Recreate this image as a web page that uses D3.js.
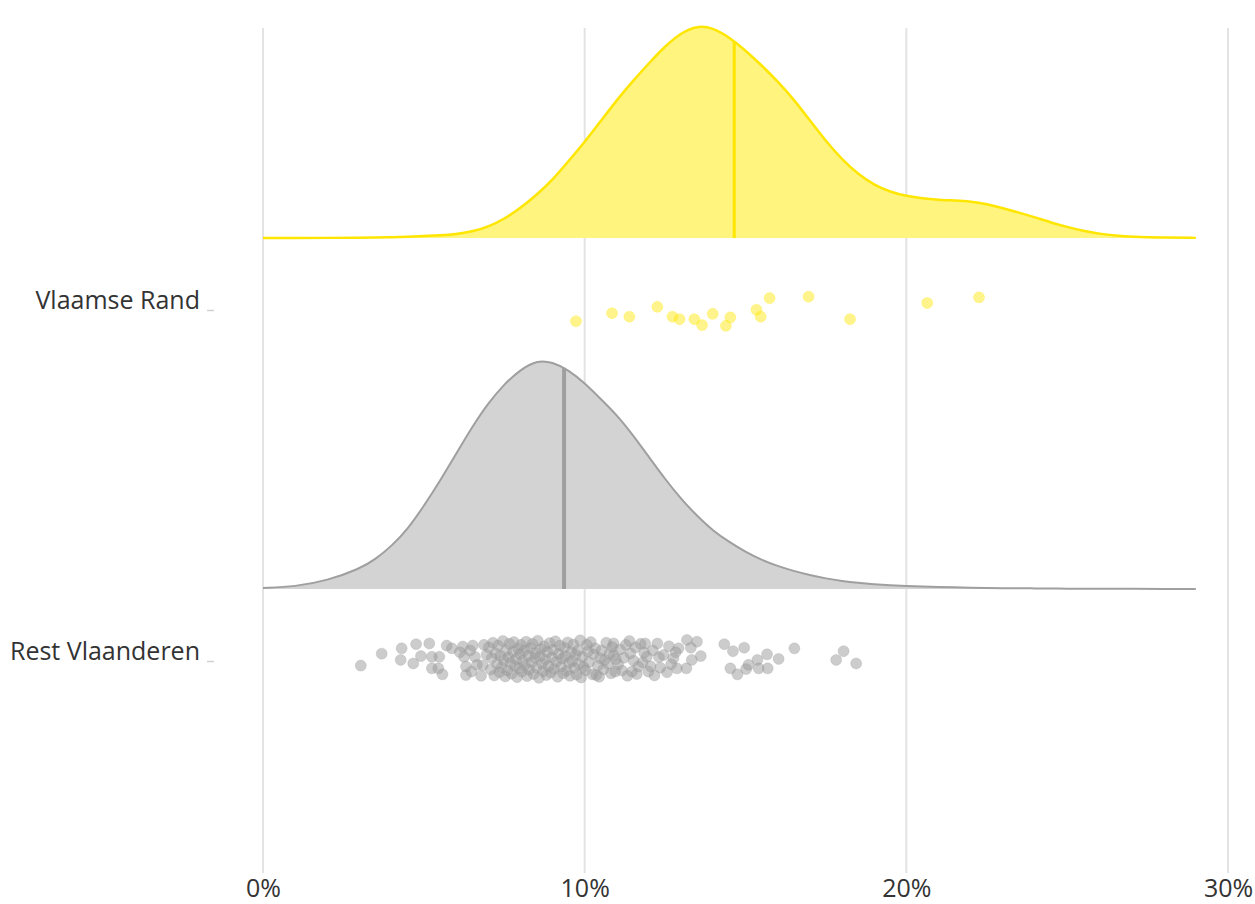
<!DOCTYPE html>
<html>
<head>
<meta charset="utf-8">
<script src="https://cdn.jsdelivr.net/npm/d3@7"></script>
<style>
  body { margin: 0; background: #fff; }
  .cat text { font-family: "Open Sans", sans-serif; font-size: 25px; fill: #333; }
  .xax text { font-family: "Liberation Sans Narrow", "Open Sans", sans-serif; font-size: 25px; fill: #333; }
</style>
</head>
<body>
<div id="chart"></div>
<script>
// rows (bottom to top)
var categories = ["Rest Vlaanderen", "Vlaamse Rand"];
var xTicks = [0, 10, 20, 30];

// density grid (percent) and density values (per mille per pp)
var densityX = [0, 1, 2, 3, 3.5, 4, 4.5, 5, 5.5, 6, 6.5, 7, 7.5, 8, 8.5, 9, 9.5, 10, 10.5, 11, 11.5, 12, 12.5,
  13, 13.5, 14, 14.5, 15, 15.5, 16, 16.5, 17, 17.5, 18, 18.5, 19, 19.5, 20, 20.5, 21, 21.5, 22, 22.5,
  23, 23.5, 24, 24.5, 25, 25.5, 26, 26.5, 27, 28, 29];
var densityRand = [0, 0, 0.1, 0.2, 0.3, 0.5, 0.8, 1.1, 1.6, 2.2, 3.8, 6.5, 11.2, 17.6, 25.3, 34.1, 45.3, 56.5,
  68.8, 81.2, 92.4, 102.9, 112.9, 120.8, 125.0, 123.6, 118.0, 110.4, 101.6, 92.2, 81.6, 69.2, 57.0, 46.2,
  37.6, 31.2, 27.1, 24.7, 23.3, 22.5, 22.1, 21.6, 20.0, 17.6, 15.0, 12.2, 9.1, 6.5, 4.2, 2.5, 1.4, 0.8, 0.3, 0.1];
var densityRest = [0.6, 1.4, 5.0, 11.8, 17.6, 25.3, 35.3, 48.8, 63.5, 79.4, 95.3, 109.4, 120.6, 129.0, 134.5,
  133.6, 128.8, 121.2, 111.8, 102.4, 90.6, 77.6, 64.7, 52.9, 42.9, 34.1, 27.6, 21.8, 17.1, 13.5, 10.6, 8.2,
  6.2, 4.7, 3.6, 2.8, 2.2, 1.8, 1.5, 1.2, 1.0, 0.8, 0.65, 0.5, 0.45, 0.4, 0.3, 0.2, 0.2, 0.2, 0.15, 0.1, 0.1, 0.1];

// mean lines (percent)
var means = [9.36, 14.65];

// municipalities: [value %, jitter in % of row spacing]
var pointsRand = [[9.73,-3.2],[10.85,-0.9],[11.39,-1.9],[12.26,0.9],[12.73,-1.9],[12.95,-2.6],[13.41,-2.6],
  [13.65,-4.3],[13.98,-1.1],[14.39,-4.5],[14.53,-2.1],[15.34,0.1],[15.47,-1.9],[15.75,3.4],[16.96,3.8],
  [18.25,-2.6],[20.65,2.0],[22.26,3.6]];

var pointsRest = [
  [3.04,-1.3],[3.69,2.1],[4.31,3.6],[4.28,0.3],[4.76,4.8],[5.17,5.0],[4.91,1.4],[4.67,-0.7],[5.25,1.2],
  [5.48,1.2],[5.25,-2.1],[5.45,-2.1],[5.58,-3.8],[5.71,4.4],[5.87,3.6],[6.21,4.1],[6.52,4.4],[6.87,4.6],
  [6.25,1.2],[6.59,1.2],[6.31,-1.6],[6.65,-1.1],[6.31,-4.0],[6.78,-4.2],
  [6.12,2.5],[6.44,3.0],[6.48,-3.0],[6.83,-1.2],[6.95,1.8],
  [7.02,3.9],[7.08,-2.4],[7.11,0.8],[7.15,5.2],[7.19,-4.1],[7.24,2.2],[7.28,-0.9],[7.31,4.4],[7.35,-3.2],
  [7.38,1.5],[7.42,-1.8],[7.46,5.7],[7.49,0.2],[7.53,-4.4],[7.56,3.1],[7.6,-2.7],[7.63,1.1],[7.66,4.9],
  [7.7,-0.5],[7.73,-3.6],[7.77,2.6],[7.8,5.4],[7.83,-1.4],[7.87,0.6],[7.9,-4.6],[7.93,3.5],[7.97,-2.1],[7.99,1.9],
  [8.02,4.6],[8.05,-3.0],[8.08,0.1],[8.12,2.9],[8.15,-1.2],[8.18,5.5],[8.21,-4.3],[8.25,1.6],[8.28,-2.5],
  [8.31,3.7],[8.35,-0.4],[8.38,4.9],[8.41,-3.7],[8.44,0.9],[8.48,2.3],[8.51,-1.9],[8.54,5.8],[8.58,-4.8],
  [8.61,1.3],[8.64,3.4],[8.68,-0.8],[8.71,-2.9],[8.74,4.2],[8.78,0.4],[8.81,-4.0],[8.84,2.6],[8.88,-1.5],
  [8.91,5.1],[8.95,-3.3],[8.98,1.0],
  [9.02,3.2],[9.05,-2.2],[9.09,5.6],[9.12,-0.2],[9.16,-4.5],[9.19,2.0],[9.23,4.4],[9.26,-1.6],[9.3,0.7],
  [9.33,-3.5],[9.37,3.8],[9.4,1.4],[9.44,-2.8],[9.47,5.3],[9.51,-0.6],[9.54,-4.2],[9.58,2.5],[9.61,0.0],
  [9.65,4.7],[9.68,-2.0],[9.72,1.8],[9.75,-3.9],[9.79,3.0],[9.82,-0.9],[9.86,5.9],[9.89,-4.7],[9.93,1.2],[9.97,-1.7],
  [10.03,-2.6],[10.1,2.7],[10.14,-0.3],[10.19,5.4],[10.24,-3.8],[10.28,1.9],[10.33,3.6],[10.41,-1.3],
  [10.45,-4.5],[10.53,3.0],[10.58,-2.4],[10.62,0.3],[10.67,5.2],[10.72,-0.8],[10.77,2.1],[10.82,-3.5],
  [10.86,4.0],[10.97,0.5],
  [11.04,-1.0],[11.1,3.3],[11.16,-2.7],[11.22,0.9],[11.28,4.6],[11.33,-4.2],[11.52,0.1],[11.58,3.9],
  [11.62,-3.7],[11.74,4.9],[11.8,-0.4],[11.85,2.4],
  [12.05,-1.5],[12.12,3.0],[12.17,-4.1],[12.31,1.1],[12.56,-3.2],[12.62,4.2],[12.69,-0.9],[12.83,2.5],
  [13.18,6.0],[13.49,5.5],[13.30,3.8],[12.92,3.6],[13.61,1.4],[13.33,0.3],[14.34,4.8],[14.61,2.8],
  [14.96,3.8],[14.53,-2.1],[14.75,-3.8],[15.02,-2.3],[15.09,-1.1],[15.37,0.3],[15.41,-2.1],[15.67,1.9],
  [15.69,-2.1],[16.03,0.6],[16.52,3.6],[18.05,2.8],[17.82,0.3],[18.44,-0.7],[12.35,-1.9],[12.87,-2.1],
  [13.16,-2.1],[12.26,5.0],[11.39,5.7],[11.88,5.0],[10.90,5.0],[10.36,-4.0],[10.95,-3.0],[11.47,-3.0],
  [11.98,-3.0],[11.67,-1.6],[12.45,1.7],[12.76,0.8],[11.93,1.2],[11.42,2.2],[10.48,0.8],[10.07,4.6],[10.90,1.7]
];

var svgWidth = 1255;
var svgHeight = 904;

var svg = d3.select("#chart")
  .append("svg")
  .attr("width", svgWidth)
  .attr("height", svgHeight);

// scales
var xScale = d3.scaleLinear().domain([0, 30]).range([263, 1228]);
var yRow = d3.scaleLinear().domain([0, 1]).range([661, 310]);
var densToRow = d3.scaleLinear().domain([0, 100]).range([0, 0.4843]);
var densOffset = 0.205;   // cloud sits above the row
var plotTop = 28, plotBottom = 873;

// grid lines
svg.append("g").selectAll("line")
  .data(xTicks)
  .enter()
  .append("line")
  .attr("x1", d => xScale(d))
  .attr("x2", d => xScale(d))
  .attr("y1", plotTop)
  .attr("y2", plotBottom)
  .attr("stroke", "#e3e3e3")
  .attr("stroke-width", 2);

var groups = [
  { row: 1, dens: densityRand, pts: pointsRand, mean: means[1],
    fill: "#fff47e", line: "#ffe600", pt: "#ffe600", lw: 2.5, mw: 3, op: 0.45 },
  { row: 0, dens: densityRest, pts: pointsRest, mean: means[0],
    fill: "#d3d3d3", line: "#9f9f9f", pt: "#999999", lw: 2, mw: 4, op: 0.5 }
];

function densAt(dens, v) {
  var i = d3.bisectRight(densityX, v);
  var x0 = densityX[i - 1], x1 = densityX[i];
  var t = (v - x0) / (x1 - x0);
  return dens[i - 1] + t * (dens[i] - dens[i - 1]);
}

groups.forEach(function(g) {
  var base = g.row + densOffset;
  var area = d3.area()
    .x((d, i) => xScale(densityX[i]))
    .y0(yRow(base))
    .y1(d => yRow(base + densToRow(d)))
    .curve(d3.curveBasis);
  var line = d3.line()
    .x((d, i) => xScale(densityX[i]))
    .y(d => yRow(base + densToRow(d)))
    .curve(d3.curveBasis);

  svg.append("path")
    .datum(g.dens)
    .attr("d", area)
    .attr("fill", g.fill);

  svg.append("path")
    .datum(g.dens)
    .attr("d", line)
    .attr("fill", "none")
    .attr("stroke", g.line)
    .attr("stroke-width", g.lw);

  // mean line
  svg.append("line")
    .attr("x1", xScale(g.mean))
    .attr("x2", xScale(g.mean))
    .attr("y1", yRow(base))
    .attr("y2", yRow(base + densToRow(densAt(g.dens, g.mean))))
    .attr("stroke", g.line)
    .attr("stroke-width", g.mw);

  // rain
  svg.append("g").selectAll("circle")
    .data(g.pts)
    .enter()
    .append("circle")
    .attr("cx", d => xScale(d[0]))
    .attr("cy", d => yRow(g.row + d[1] / 100))
    .attr("r", 5.5)
    .attr("fill", g.pt)
    .attr("fill-opacity", g.op)
    .attr("stroke", g.pt)
    .attr("stroke-opacity", 0.25)
    .attr("stroke-width", 1);
});

// category axis
var yAxis = d3.axisLeft(yRow)
  .tickValues([0, 1])
  .tickFormat(d => categories[d])
  .tickSize(7)
  .tickPadding(7);

var yG = svg.append("g")
  .attr("class", "cat")
  .attr("transform", "translate(214,0)")
  .call(yAxis);
yG.select(".domain").remove();
yG.selectAll(".tick line").attr("stroke", "#d0d0d0").attr("stroke-width", 1.5);
yG.selectAll(".tick text").attr("dy", "-0.08em");

// x axis labels
var xAxis = d3.axisBottom(xScale)
  .tickValues(xTicks)
  .tickFormat(d => d + "%")
  .tickSize(0)
  .tickPadding(6);

var xG = svg.append("g")
  .attr("class", "xax")
  .attr("transform", `translate(0, ${plotBottom})`)
  .call(xAxis);
xG.select(".domain").remove();
</script>
</body>
</html>
